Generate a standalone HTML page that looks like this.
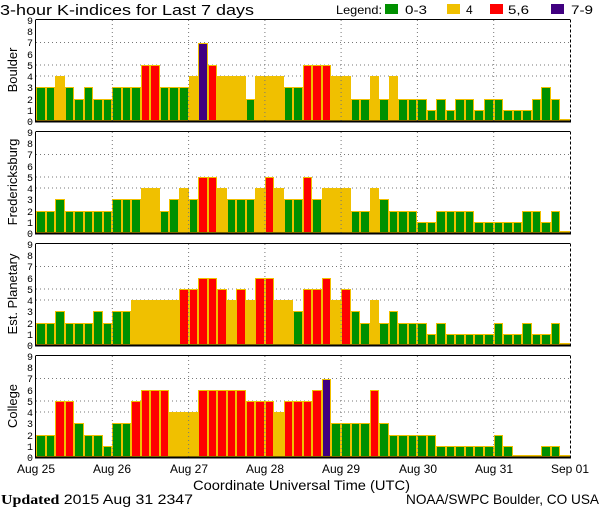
<!DOCTYPE html>
<html><head><meta charset="utf-8"><style>
html,body{margin:0;padding:0;background:#fff;width:600px;height:510px;overflow:hidden;position:relative}
svg{position:absolute;left:0;top:0;font-family:"Liberation Sans",sans-serif}
.p{position:absolute;left:36px;width:534px;height:101px;display:flex;align-items:flex-end}
.p b{flex:1;box-sizing:border-box;border:1px solid #f0c000;display:block}
.a0{height:2px;background:#009000}
.a1{height:11px;background:#009000}.a2{height:22.4px;background:#009000}.a3{height:33.7px;background:#009000}
.a4{height:44.9px;background:#f0c000}.a5{height:56.1px;background:#f00}.a6{height:67.3px;background:#f00}
.a7{height:78.5px;background:#400080}
</style></head><body>
<svg width="600" height="510" xmlns="http://www.w3.org/2000/svg">
<defs>
<g id="hg" stroke="#777" stroke-dasharray="1,3">
<line x1="36" y1="76" x2="570" y2="76"/><line x1="36" y1="65" x2="570" y2="65"/><line x1="36" y1="42.5" x2="570" y2="42.5"/>
</g>
</defs>
<use href="#hg"/><use href="#hg" y="112"/><use href="#hg" y="224"/><use href="#hg" y="336"/>
</svg>
<div class="p" style="top:20px"><b class=a3></b><b class=a3></b><b class=a4></b><b class=a3></b><b class=a2></b><b class=a3></b><b class=a2></b><b class=a2></b><b class=a3></b><b class=a3></b><b class=a3></b><b class=a5></b><b class=a5></b><b class=a3></b><b class=a3></b><b class=a3></b><b class=a4></b><b class=a7></b><b class=a5></b><b class=a4></b><b class=a4></b><b class=a4></b><b class=a2></b><b class=a4></b><b class=a4></b><b class=a4></b><b class=a3></b><b class=a3></b><b class=a5></b><b class=a5></b><b class=a5></b><b class=a4></b><b class=a4></b><b class=a2></b><b class=a2></b><b class=a4></b><b class=a2></b><b class=a4></b><b class=a2></b><b class=a2></b><b class=a2></b><b class=a1></b><b class=a2></b><b class=a1></b><b class=a2></b><b class=a2></b><b class=a1></b><b class=a2></b><b class=a2></b><b class=a1></b><b class=a1></b><b class=a1></b><b class=a2></b><b class=a3></b><b class=a2></b><b class=a0></b></div>
<div class="p" style="top:132px"><b class=a2></b><b class=a2></b><b class=a3></b><b class=a2></b><b class=a2></b><b class=a2></b><b class=a2></b><b class=a2></b><b class=a3></b><b class=a3></b><b class=a3></b><b class=a4></b><b class=a4></b><b class=a2></b><b class=a3></b><b class=a4></b><b class=a3></b><b class=a5></b><b class=a5></b><b class=a4></b><b class=a3></b><b class=a3></b><b class=a3></b><b class=a4></b><b class=a5></b><b class=a4></b><b class=a3></b><b class=a3></b><b class=a5></b><b class=a3></b><b class=a4></b><b class=a4></b><b class=a4></b><b class=a2></b><b class=a2></b><b class=a4></b><b class=a3></b><b class=a2></b><b class=a2></b><b class=a2></b><b class=a1></b><b class=a1></b><b class=a2></b><b class=a2></b><b class=a2></b><b class=a2></b><b class=a1></b><b class=a1></b><b class=a1></b><b class=a1></b><b class=a1></b><b class=a2></b><b class=a2></b><b class=a1></b><b class=a2></b><b class=a0></b></div>
<div class="p" style="top:244px"><b class=a2></b><b class=a2></b><b class=a3></b><b class=a2></b><b class=a2></b><b class=a2></b><b class=a3></b><b class=a2></b><b class=a3></b><b class=a3></b><b class=a4></b><b class=a4></b><b class=a4></b><b class=a4></b><b class=a4></b><b class=a5></b><b class=a5></b><b class=a6></b><b class=a6></b><b class=a5></b><b class=a4></b><b class=a5></b><b class=a4></b><b class=a6></b><b class=a6></b><b class=a4></b><b class=a4></b><b class=a3></b><b class=a5></b><b class=a5></b><b class=a6></b><b class=a4></b><b class=a5></b><b class=a3></b><b class=a2></b><b class=a4></b><b class=a2></b><b class=a3></b><b class=a2></b><b class=a2></b><b class=a2></b><b class=a1></b><b class=a2></b><b class=a1></b><b class=a1></b><b class=a1></b><b class=a1></b><b class=a1></b><b class=a2></b><b class=a1></b><b class=a1></b><b class=a2></b><b class=a1></b><b class=a1></b><b class=a2></b><b class=a0></b></div>
<div class="p" style="top:356px"><b class=a2></b><b class=a2></b><b class=a5></b><b class=a5></b><b class=a3></b><b class=a2></b><b class=a2></b><b class=a1></b><b class=a3></b><b class=a3></b><b class=a5></b><b class=a6></b><b class=a6></b><b class=a6></b><b class=a4></b><b class=a4></b><b class=a4></b><b class=a6></b><b class=a6></b><b class=a6></b><b class=a6></b><b class=a6></b><b class=a5></b><b class=a5></b><b class=a5></b><b class=a4></b><b class=a5></b><b class=a5></b><b class=a5></b><b class=a6></b><b class=a7></b><b class=a3></b><b class=a3></b><b class=a3></b><b class=a3></b><b class=a6></b><b class=a3></b><b class=a2></b><b class=a2></b><b class=a2></b><b class=a2></b><b class=a2></b><b class=a1></b><b class=a1></b><b class=a1></b><b class=a1></b><b class=a1></b><b class=a1></b><b class=a2></b><b class=a1></b><b class=a0></b><b class=a0></b><b class=a0></b><b class=a1></b><b class=a1></b><b class=a0></b></div>
<svg width="600" height="510" xmlns="http://www.w3.org/2000/svg">
<defs>
<g id="fr">
<g stroke="#777" stroke-dasharray="1,3">
<line x1="112.3" y1="20" x2="112.3" y2="121"/><line x1="188.6" y1="20" x2="188.6" y2="121"/><line x1="264.9" y1="20" x2="264.9" y2="121"/><line x1="341.1" y1="20" x2="341.1" y2="121"/><line x1="417.4" y1="20" x2="417.4" y2="121"/><line x1="493.7" y1="20" x2="493.7" y2="121"/>
</g>
<line x1="36" y1="19.5" x2="570" y2="19.5" stroke="#000"/>
<line x1="35.5" y1="19.5" x2="35.5" y2="121" stroke="#000"/>
<line x1="570.5" y1="19.5" x2="570.5" y2="121" stroke="#000" stroke-dasharray="3,2"/>
<line x1="35" y1="121.5" x2="571" y2="121.5" stroke="#000" stroke-width="2"/>
<g font-size="10" text-anchor="end" font-family="Liberation Mono,monospace">
<text x="33" y="125">0</text><text x="33" y="114">1</text><text x="33" y="103">2</text><text x="33" y="91">3</text><text x="33" y="80">4</text><text x="33" y="69">5</text><text x="33" y="58">6</text><text x="33" y="46">7</text><text x="33" y="35">8</text><text x="33" y="24">9</text>
</g>
</g>
</defs>
<use href="#fr"/><use href="#fr" y="112"/><use href="#fr" y="224"/><use href="#fr" y="336"/>
<text x="0" y="15" font-size="15" textLength="254" lengthAdjust="spacingAndGlyphs">3-hour K-indices for Last 7 days</text>
<g font-size="12">
<text x="336" y="14" textLength="46" lengthAdjust="spacingAndGlyphs">Legend:</text>
<rect x="385" y="4" width="13" height="10" fill="#009000"/><text x="405" y="14" textLength="22" lengthAdjust="spacingAndGlyphs">0-3</text>
<rect x="447" y="4" width="13" height="10" fill="#f0c000"/><text x="466" y="14">4</text>
<rect x="490" y="4" width="13" height="10" fill="#ff0000"/><text x="508" y="14" textLength="21" lengthAdjust="spacingAndGlyphs">5,6</text>
<rect x="551" y="4" width="13" height="10" fill="#400080"/><text x="571" y="14" textLength="22" lengthAdjust="spacingAndGlyphs">7-9</text>
</g>
<g font-size="12" text-anchor="middle">
<text x="36" y="473">Aug 25</text><text x="112" y="473">Aug 26</text><text x="189" y="473">Aug 27</text><text x="265" y="473">Aug 28</text><text x="341" y="473">Aug 29</text><text x="418" y="473">Aug 30</text><text x="494" y="473">Aug 31</text><text x="570" y="473">Sep 01</text>
</g>
<text x="193" y="490" font-size="14" textLength="217" lengthAdjust="spacingAndGlyphs">Coordinate Universal Time (UTC)</text>
<text x="1" y="504" font-size="14" textLength="192" lengthAdjust="spacingAndGlyphs"><tspan font-family="Liberation Serif,serif" font-weight="bold">Updated</tspan> 2015 Aug 31 2347</text>
<text x="406" y="504" font-size="14" textLength="193" lengthAdjust="spacingAndGlyphs">NOAA/SWPC Boulder, CO USA</text>
<g font-size="13" text-anchor="middle">
<text transform="translate(17,70) rotate(-90)">Boulder</text>
<text transform="translate(17,182) rotate(-90)">Fredericksburg</text>
<text transform="translate(17,294) rotate(-90)">Est. Planetary</text>
<text transform="translate(17,406) rotate(-90)">College</text>
</g>
</svg>
</body></html>
